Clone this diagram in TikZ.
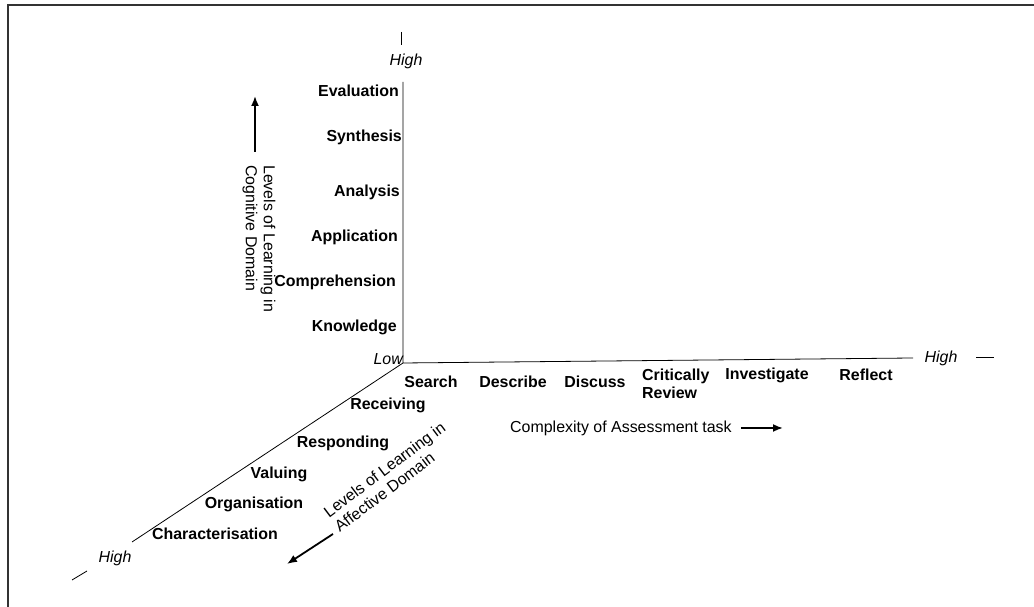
\documentclass[tikz,border=0pt]{standalone}
\usepackage{fontspec}
\setmainfont{Liberation Sans}
\usetikzlibrary{arrows.meta}
\begin{document}
\begin{tikzpicture}[x=1bp,y=1bp,
  every node/.style={font=\fontsize{16}{18}\selectfont, inner sep=0pt},
  lvl/.style={font=\fontsize{16}{18}\selectfont\bfseries},
  endtxt/.style={font=\fontsize{16}{18}\selectfont\itshape},
  axisline/.style={line width=0.8bp},
  bigarrow/.style={line width=1.8bp,-{Latex[length=10bp,width=8bp]}}]
\useasboundingbox (0,0) rectangle (1034,607);
\draw[line width=1.6bp,black!80] (8,0) -- (8,602) -- (1034,602);
\coordinate (O) at (403,244);
\coordinate (vtop) at (403,525);
\coordinate (hend) at (913,249);
\coordinate (dend) at (132,65);
\draw[axisline] (vtop) -- (O) -- (hend);
\draw[axisline] (O) -- (dend);
\coordinate (vt1) at (401,575);
\coordinate (vt2) at (401,562);
\coordinate (ht1) at (976,250);
\coordinate (ht2) at (994,250);
\coordinate (dt1) at (72,27);
\coordinate (dt2) at (87,36);
\draw[axisline] (vt1) -- (vt2);
\draw[axisline] (ht1) -- (ht2);
\draw[axisline] (dt1) -- (dt2);
\node[endtxt] (hightop) at (406,546) {High};
\node[endtxt] (highright) at (941,249) {High};
\node[endtxt] (highdiag) at (115,49) {High};
\node[endtxt,anchor=east] (low) at (403,248) {Low};
\node[lvl,anchor=east] (evaluation) at (399,516) {Evaluation};
\node[lvl,anchor=east] (synthesis) at (402,470) {Synthesis};
\node[lvl,anchor=east] (analysis) at (400,415) {Analysis};
\node[lvl,anchor=east] (application) at (398,370) {Application};
\node[lvl,anchor=east] (comprehension) at (396,325) {Comprehension};
\node[lvl,anchor=east] (knowledge) at (397,280) {Knowledge};
\node[rotate=-90,anchor=west,align=left] (cogtitle) at (259,442)
  {Levels of Learning in\\Cognitive Domain};
\coordinate (cogfrom) at (255,455);
\coordinate (cogto) at (255,511);
\draw[bigarrow] (cogfrom) -- (cogto);
\node[lvl] (search) at (431,225) {Search};
\node[lvl] (describe) at (513,225) {Describe};
\node[lvl] (discuss) at (595,225) {Discuss};
\node[lvl,anchor=west,align=left] (review) at (642,223) {Critically\\Review};
\node[lvl] (investigate) at (767,232) {Investigate};
\node[lvl] (reflect) at (866,232) {Reflect};
\node[anchor=west] (complexity) at (510,179) {Complexity of Assessment task};
\coordinate (taskto) at (783,179);
\draw[bigarrow] ([xshift=9bp]complexity.east) -- (taskto);
\node[lvl] (receiving) at (388,202) {Receiving};
\node[lvl] (responding) at (343,164) {Responding};
\node[lvl] (valuing) at (279,133) {Valuing};
\node[lvl] (organisation) at (254,103) {Organisation};
\node[lvl] (characterisation) at (215,73) {Characterisation};
\node[rotate=37,anchor=west,align=left] (afftitle) at (331,86)
  {Levels of Learning in\\Affective Domain};
\coordinate (afffrom) at (333,73);
\coordinate (affto) at (287,43);
\draw[bigarrow] (afffrom) -- (affto);
\end{tikzpicture}
\end{document}
